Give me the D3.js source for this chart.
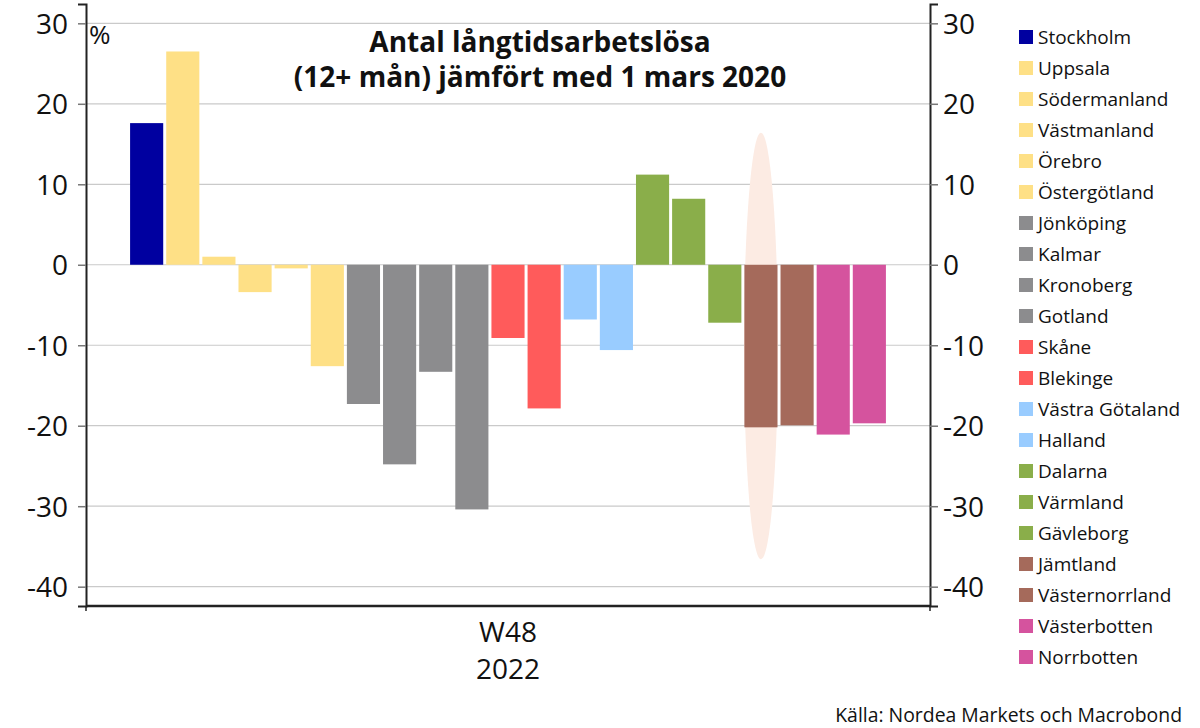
<!DOCTYPE html>
<html>
<head>
<meta charset="utf-8">
<script src="https://cdn.jsdelivr.net/npm/d3@7"></script>
<style>
  html, body { margin: 0; padding: 0; background: #fff; }
  svg { display: block; }
  text { font-family: "Open Sans", "Noto Sans", sans-serif; fill: #111; }
</style>
</head>
<body>
<svg id="chart" width="1200" height="728"></svg>
<script>
// ---- Data ----
const regions = ["Stockholm","Uppsala","Södermanland","Västmanland","Örebro","Östergötland",
  "Jönköping","Kalmar","Kronoberg","Gotland","Skåne","Blekinge","Västra Götaland","Halland",
  "Dalarna","Värmland","Gävleborg","Jämtland","Västernorrland","Västerbotten","Norrbotten"];
const values = [17.6, 26.5, 1.0, -3.4, -0.45, -12.6, -17.3, -24.8, -13.3, -30.4, -9.1, -17.85,
  -6.8, -10.6, 11.2, 8.2, -7.2, -20.2, -19.95, -21.1, -19.7];
const colors = ["#0000a0","#fee086","#fee086","#fee086","#fee086","#fee086",
  "#8c8c8e","#8c8c8e","#8c8c8e","#8c8c8e","#ff5b5b","#ff5b5b","#99ccff","#99ccff",
  "#8aae4a","#8aae4a","#8aae4a","#a56a5b","#a56a5b","#d5539e","#d5539e"];
const yTicks = [-40, -30, -20, -10, 0, 10, 20, 30];
const xCategory = ["W48"];
const xYear = "2022";
const highlight = { region: "Jämtland", top: 16.4, bottom: -36.6 };
const title = ["Antal långtidsarbetslösa", "(12+ mån) jämfört med 1 mars 2020"];
const source = "Källa: Nordea Markets och Macrobond";

// ---- Layout ----
const svg = d3.select("#chart");
const pLeft = 86, pRight = 930, pTop = 4, pBottom = 606;

const y = d3.scaleLinear().domain([-42.4, 32.4]).range([pBottom, pTop]);
const x = d3.scaleBand().domain(regions).range([pLeft, pRight]).paddingInner(0.0833).paddingOuter(1.22);
const xg = d3.scaleBand().domain(xCategory).range([pLeft, pRight]);

// gridlines
svg.append("g").selectAll("line").data(yTicks).join("line")
  .attr("x1", pLeft).attr("x2", pRight)
  .attr("y1", d => y(d)).attr("y2", d => y(d))
  .attr("stroke", "#cacaca").attr("stroke-width", 1.2);

// highlight ellipse
const hx = x(highlight.region) + x.bandwidth() / 2;
svg.append("ellipse")
  .attr("cx", hx)
  .attr("cy", (y(highlight.top) + y(highlight.bottom)) / 2)
  .attr("rx", 17)
  .attr("ry", (y(highlight.bottom) - y(highlight.top)) / 2)
  .attr("fill", "#fcebe3");

// bars
svg.append("g").selectAll("rect").data(regions).join("rect")
  .attr("x", d => x(d))
  .attr("width", x.bandwidth())
  .attr("y", (d, i) => y(Math.max(0, values[i])))
  .attr("height", (d, i) => Math.abs(y(values[i]) - y(0)))
  .attr("fill", (d, i) => colors[i]);

// y axes
const fmt = d => String(d);
const gl = svg.append("g").attr("transform", `translate(${pLeft},0)`)
  .call(d3.axisLeft(y).tickValues(yTicks).tickFormat(fmt).tickSize(8).tickPadding(10));
const gr = svg.append("g").attr("transform", `translate(${pRight},0)`)
  .call(d3.axisRight(y).tickValues(yTicks).tickFormat(fmt).tickSize(8).tickPadding(5));
[gl, gr].forEach(g => {
  g.select(".domain").attr("stroke", "#222").attr("stroke-width", 2);
  g.selectAll(".tick line").attr("stroke", "#777").attr("stroke-width", 1.5);
  g.selectAll(".tick text").attr("font-size", 28).attr("fill", "#111")
    .attr("font-family", "'Open Sans', sans-serif").attr("dy", "0.36em");
});

// x axis
const gx = svg.append("g").attr("transform", `translate(0,${pBottom})`)
  .call(d3.axisBottom(xg).tickSize(0).tickPadding(16));
gx.select(".domain").attr("stroke", "#222").attr("stroke-width", 2.5).attr("d", `M${pLeft},0H${pRight}`);
gx.selectAll(".tick text").attr("font-size", 28).attr("fill", "#111")
  .attr("font-family", "'Open Sans', sans-serif");
gx.selectAll(".tick").append("text")
  .attr("y", 53).attr("dy", "0.71em").attr("font-size", 28).attr("fill", "#111")
  .attr("text-anchor", "middle")
  .attr("font-family", "'Open Sans', sans-serif").text(xYear);
// edge ticks
svg.append("g").selectAll("line").data([pLeft, pRight]).join("line")
  .attr("x1", d => d).attr("x2", d => d)
  .attr("y1", pBottom).attr("y2", pBottom + 5)
  .attr("stroke", "#222").attr("stroke-width", 1.5);

// % unit
svg.append("text").attr("x", 89).attr("y", 44).attr("font-size", 26).text("%");

// title
svg.append("g").selectAll("text").data(title).join("text")
  .attr("x", 540).attr("y", (d, i) => 52 + i * 35)
  .attr("text-anchor", "middle").attr("font-size", 28).attr("font-weight", "bold")
  .text(d => d);

// legend
const lg = svg.append("g").selectAll("g").data(regions).join("g")
  .attr("transform", (d, i) => `translate(1019,${37 + i * 31})`);
lg.append("rect").attr("x", 0).attr("y", -7).attr("width", 14).attr("height", 14)
  .attr("fill", (d, i) => colors[i]);
lg.append("text").attr("x", 19).attr("y", 0).attr("dy", "0.35em")
  .attr("font-size", 19).text(d => d);

// source
svg.append("text").attr("x", 1182).attr("y", 722).attr("text-anchor", "end")
  .attr("font-size", 19.4).text(source);
</script>
</body>
</html>
